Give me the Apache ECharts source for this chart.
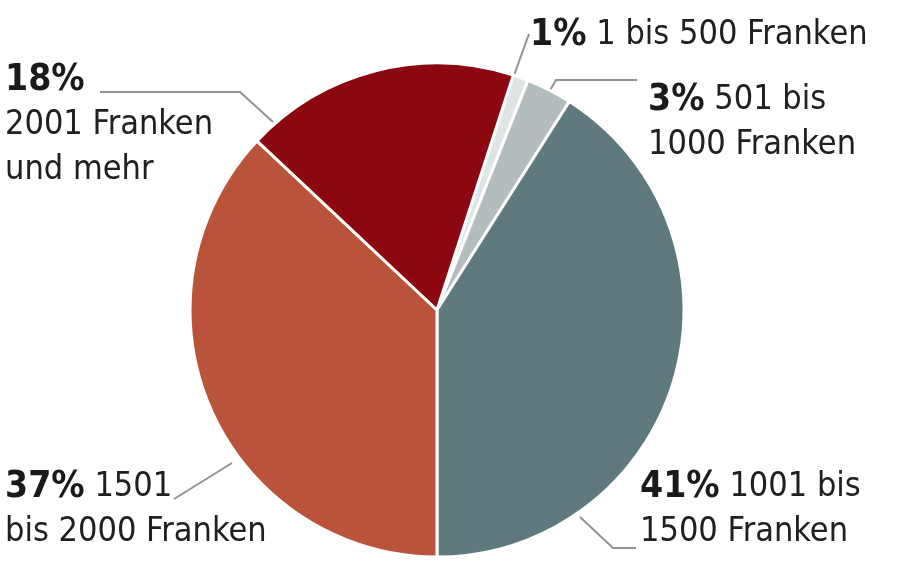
<!DOCTYPE html>
<html>
<head>
<meta charset="utf-8">
<script src="https://cdn.jsdelivr.net/npm/echarts@6/dist/echarts.min.js"></script>
<style>
  html, body { margin: 0; padding: 0; background: #fff; }
  #chart { width: 900px; height: 567px; }
</style>
</head>
<body>
<div id="chart"></div>
<script>
// data, clockwise from the small slice near the top
var shares = [1, 3, 41, 37, 18];
var percentLabels = ['1%', '3%', '41%', '37%', '18%'];
var rangeLabels = [
  '1 bis 500 Franken',
  '501 bis\n1000 Franken',
  '1001 bis\n1500 Franken',
  '1501\nbis 2000 Franken',
  '2001 Franken\nund mehr'
];
var colors = ['#dfe4e4', '#b4bdbe', '#5e7a7f', '#b9533a', '#8c0710'];

// where each label block sits and how its leader line runs
var labelPos = [
  { x: 530, y: 13,  line: [[513, 78], [529, 34]] },
  { x: 648, y: 78,  line: [[549, 92], [556, 80], [637, 80]] },
  { x: 640, y: 465, line: [[580, 517], [613, 548], [636, 548]] },
  { x: 5,   y: 465, line: [[232, 463], [174, 499]] },
  { x: 5,   y: 58,  line: [[273, 122], [240, 92], [100, 92]] }
];

var FONT = '"Liberation Sans Narrow", "DejaVu Sans Condensed", sans-serif';

var chart = echarts.init(document.getElementById('chart'));

var option = {
  animation: false,
  backgroundColor: '#fff',
  series: [
    {
      type: 'pie',
      center: [437, 310],
      radius: 247,
      startAngle: 72,
      clockwise: true,
      silent: true,
      itemStyle: {
        borderColor: '#fff',
        borderWidth: 3
      },
      label: {
        show: true,
        position: 'outside',
        overflow: 'none',
        width: 400,
        color: '#202020',
        fontFamily: FONT,
        fontSize: 34,
        lineHeight: 45,
        formatter: function (p) {
          var i = p.dataIndex;
          var parts = rangeLabels[i].split('\n');
          if (i === 4) {
            return '{p|' + percentLabels[i] + '}\n' + parts.join('\n');
          }
          parts[0] = '{p|' + percentLabels[i] + '} ' + parts[0];
          return parts.join('\n');
        },
        rich: {
          p: {
            fontWeight: 'bold',
            fontSize: 37,
            lineHeight: 45,
            color: '#1a1a1a',
            fontFamily: FONT
          }
        }
      },
      labelLine: {
        show: true,
        lineStyle: { color: '#8c9494', width: 2 }
      },
      labelLayout: function (params) {
        var l = labelPos[params.dataIndex];
        return {
          x: l.x,
          y: l.y,
          align: 'left',
          verticalAlign: 'top',
          labelLinePoints: l.line
        };
      },
      data: shares.map(function (v, i) {
        return { value: v, name: percentLabels[i], itemStyle: { color: colors[i] } };
      })
    }
  ]
};

chart.setOption(option);
</script>
</body>
</html>
